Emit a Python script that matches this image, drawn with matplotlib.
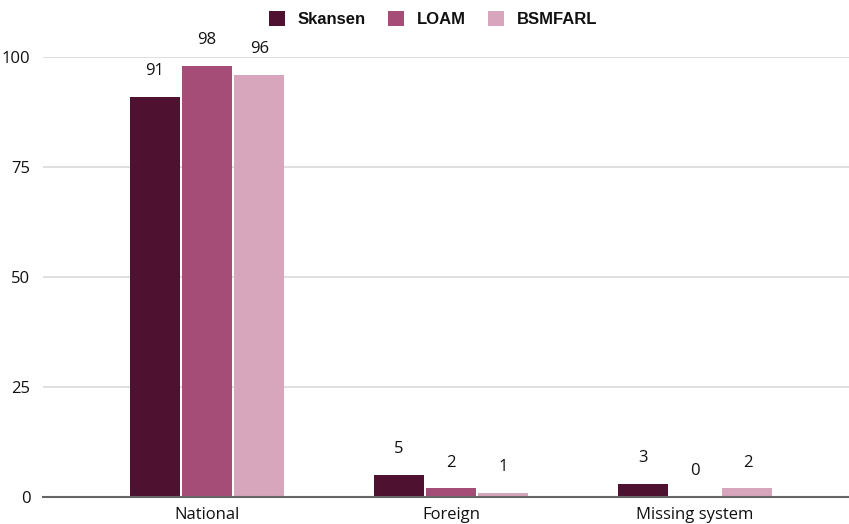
import matplotlib
matplotlib.use("Agg")
import matplotlib.pyplot as plt
import numpy as np

categories = ["National", "Foreign", "Missing system"]
series_names = ["Skansen", "LOAM", "BSMFARL"]
skansen = [91, 5, 3]
loam = [98, 2, 0]
bsmfarl = [96, 1, 2]
y_ticks = [0, 25, 50, 75, 100]
colors = ["#4E1130", "#A54C77", "#D7A6BC"]

W, H = 849, 524
fig = plt.figure(figsize=(W / 100, H / 100), dpi=100)
ax = fig.add_axes([43 / W, 27 / H, 1 - 43 / W, (497 - 57) / H])

x = np.arange(len(categories))
width = 0.205
step = 0.215
all_series = [skansen, loam, bsmfarl]
for i, (name, vals, c) in enumerate(zip(series_names, all_series, colors)):
    pos = x + (i - 1) * step
    bars = ax.bar(pos, vals, width=width, color=c, label=name, zorder=3)
    for xp, v in zip(pos, vals):
        ax.annotate(str(v), (xp, v), xytext=(0, 18.5), textcoords="offset points",
                    ha="center", va="center", fontsize=12, color="#111111",
                    family="Open Sans", annotation_clip=False)

ax.set_xlim(-0.672, 2.631)
ax.set_ylim(0, 100)
ax.set_yticks(y_ticks)
ax.set_yticklabels([str(t) for t in y_ticks], fontsize=12, family="Open Sans", color="#111111")
ax.set_xticks(x)
ax.set_xticklabels(categories, fontsize=12, family="Open Sans", color="#111111")
ax.tick_params(axis="both", length=0)
ax.tick_params(axis="y", pad=9)
ax.tick_params(axis="x", pad=7)
ax.grid(axis="y", color="#d9d9d9", lw=1.2, zorder=0)
ax.set_axisbelow(True)
for s in ["top", "right", "left"]:
    ax.spines[s].set_visible(False)
ax.spines["bottom"].set_color("#666666")
ax.spines["bottom"].set_linewidth(1.5)
ax.spines["bottom"].set_zorder(4)

leg = fig.legend(loc="center", bbox_to_anchor=(433 / W, 1 - 19 / H), ncol=3, frameon=False,
                 handlelength=1.0, handleheight=1.0, handletextpad=0.75, columnspacing=1.3,
                 prop={"family": "Liberation Sans", "weight": "bold", "size": 12})
for t in leg.get_texts():
    t.set_color("#111111")

fig.savefig("out.png", dpi=100)
